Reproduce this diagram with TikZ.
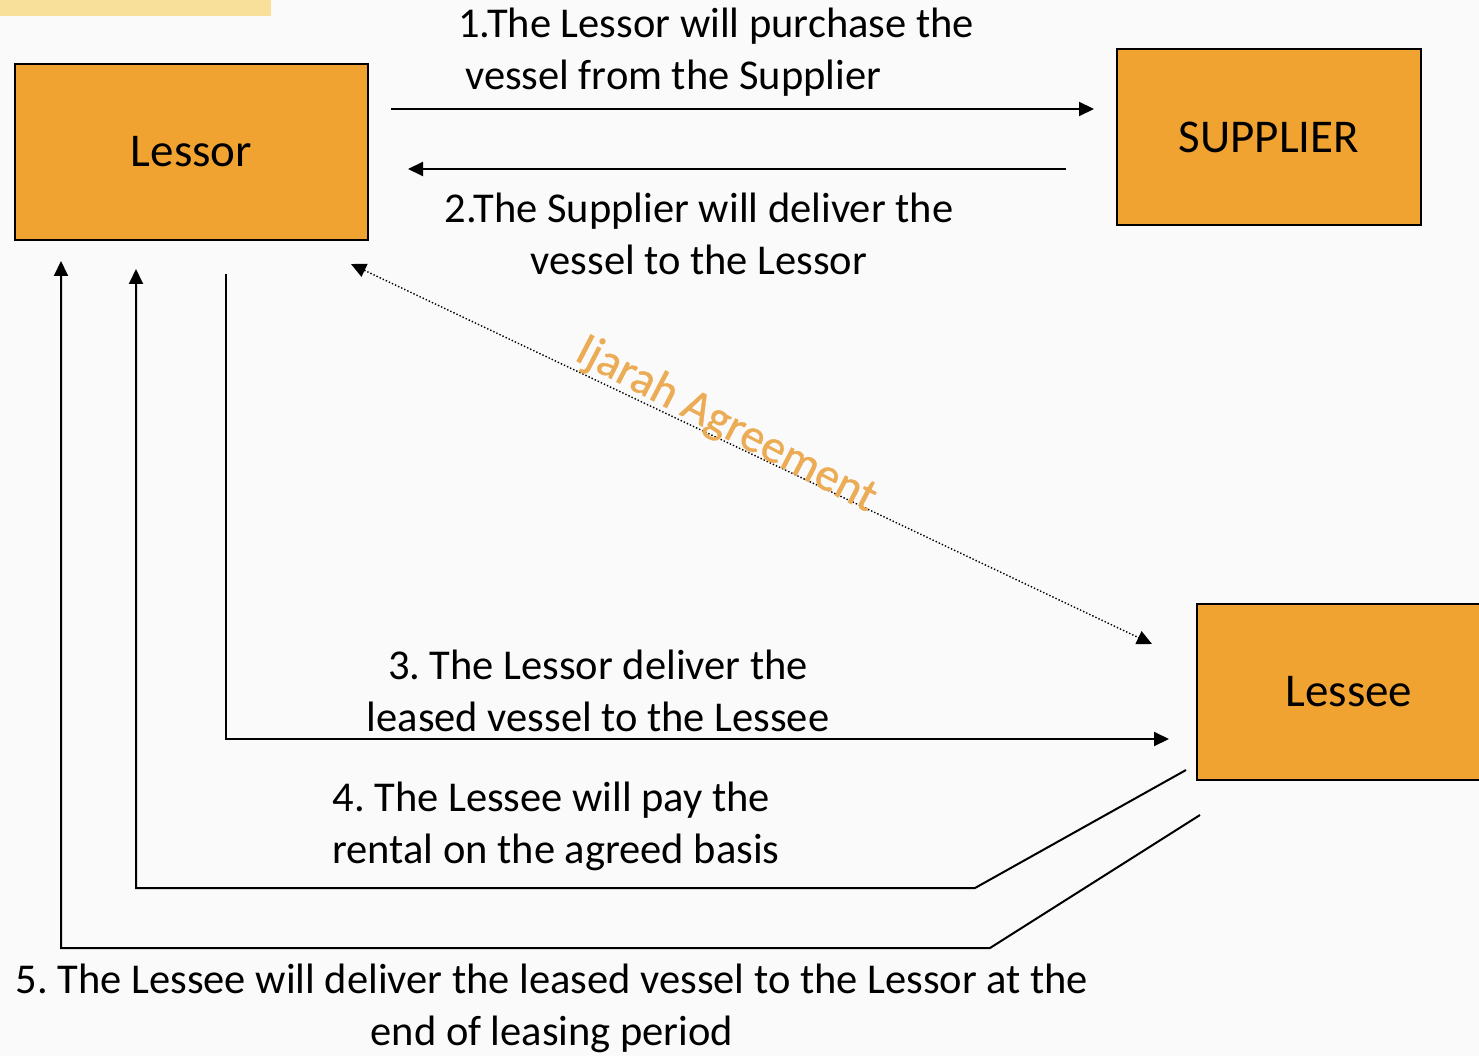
\documentclass[tikz,border=0pt]{standalone}
\usepackage{fontspec}
\setmainfont{Carlito}
\newfontfamily\agreefont[FakeBold=0.8]{Carlito}
\usetikzlibrary{arrows.meta, calc, positioning}
\frenchspacing
\definecolor{pagecol}{RGB}{250, 250, 250}
\definecolor{boxcol}{RGB}{240, 163, 48}
\definecolor{bandcol}{RGB}{248, 224, 155}
\definecolor{glowcol}{RGB}{236, 172, 85}
\definecolor{linecol}{RGB}{0, 0, 0}
\tikzset{
  party/.style = {draw=linecol, line width=2pt, fill=boxcol,
                  minimum width=353pt, minimum height=176pt, inner sep=0pt,
                  font=\fontsize{47}{56}\selectfont},
  lbl/.style   = {font=\fontsize{42.5}{52}\selectfont, inner sep=0pt},
  flow/.style  = {-{Triangle[length=15pt, width=14pt]}, draw=linecol,
                  line width=2pt},
  % the agreement runs both ways, so it is dotted and has two heads
  pact/.style  = {{Triangle[length=15pt, width=14pt]}-{Triangle[length=15pt, width=14pt]},
                  draw=linecol, line width=1.4pt, dotted},
}

\begin{document}
\begin{tikzpicture}[x=1pt, y=-1pt]

  \fill[pagecol] (0,0) rectangle (1479,1056);
  \useasboundingbox (0,0) rectangle (1479,1056);
  \fill[bandcol] (0,0) rectangle (271,16);

  %% ---------------- the three parties ----------------
  \node[party] (lessor) at (191.5,152) {Lessor};
  \node[party, minimum width=304pt] (supplier) at (1269,137) {SUPPLIER};
  \node[party, minimum width=304pt] (lessee) at (1349,692) {Lessee};

  %% ---------------- purchase and delivery ----------------
  \draw[flow] ($(lessor.east)+(22,-43)$) -- ($(supplier.west)+(-22,-28)$);
  \node[lbl, align=left] (buy) at (716,52)
       {1.The Lessor will purchase the\\ \,vessel from the Supplier};

  \draw[flow] ($(supplier.west)+(-50,32)$) -- ($(lessor.east)+(39,17)$);
  \node[lbl, align=center] (give) at (699,234)
       {2.The Supplier will deliver the\\vessel to the Lessor};

  %% ---------------- the agreement ----------------
  \draw[pact] ($(lessor.south east)+(-18,23)$) -- ($(lessee.north west)+(-44,41)$);
  \node[inner sep=0pt, rotate=-27.5, text=glowcol,
        font=\agreefont\fontsize{47}{52}\selectfont] (ijarah) at (726,425)
       {Ijarah Agreement};

  %% ---------------- lease, rent and return ----------------
  \draw[flow] ($(lessor.south)+(34.5,33)$) |- ($(lessee.west)+(-27,47)$);
  \node[lbl, align=center] (lease) at (598,691)
       {3. The Lessor deliver the\\leased vessel to the Lessee};

  \draw[flow] ($(lessee.south west)+(-10,-11)$) -- (975,888)
       -| ($(lessor.south)+(-55.5,28)$);
  \node[lbl, align=left] (rent) at (556,826)
       {4. The Lessee will pay the\\rental on the agreed basis};

  \draw[flow] ($(lessee.south west)+(4,34)$) -- (990,948)
       -| ($(lessor.south)+(-130.5,20)$);
  \node[lbl, align=center] (back) at (552,1008)
       {5. The Lessee will deliver the leased vessel to the Lessor at the\\end of leasing period};

\end{tikzpicture}
\end{document}
